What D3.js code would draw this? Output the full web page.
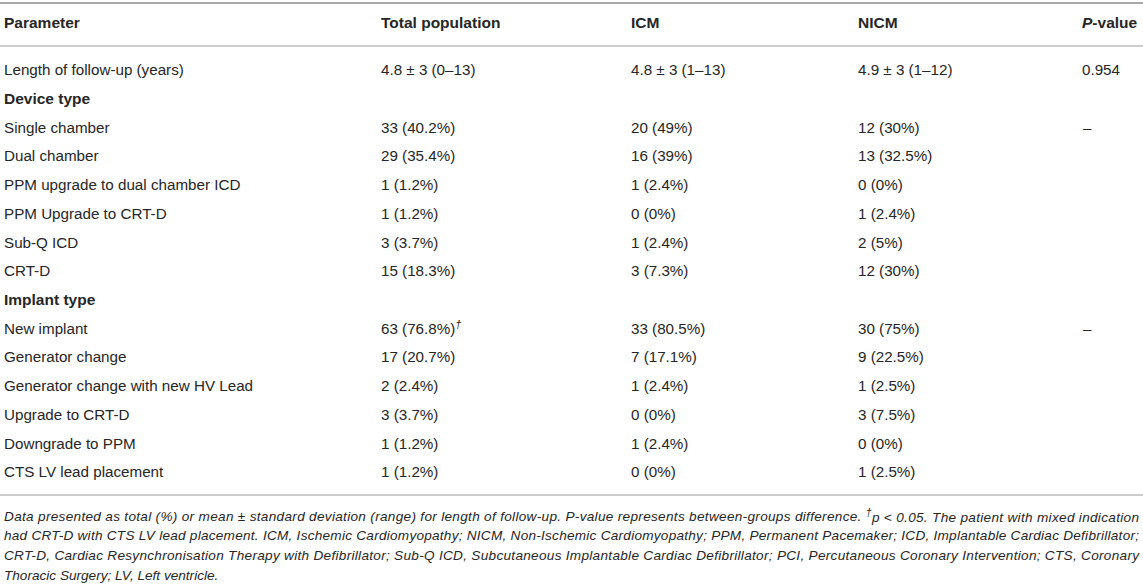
<!DOCTYPE html>
<html>
<head>
<meta charset="utf-8">
<script src="https://cdn.jsdelivr.net/npm/d3@7"></script>
<style>
  body { margin: 0; background: #fff; }
  text { font-family: "Liberation Sans", Arial, sans-serif; fill: #262626; }
</style>
</head>
<body>
<svg id="table" width="1143" height="588"></svg>
<script>
const columns = ['Parameter', 'Total population', 'ICM', 'NICM', 'P-value']

const parameters = [
  'Length of follow-up (years)',
  'Device type',
  'Single chamber',
  'Dual chamber',
  'PPM upgrade to dual chamber ICD',
  'PPM Upgrade to CRT-D',
  'Sub-Q ICD',
  'CRT-D',
  'Implant type',
  'New implant',
  'Generator change',
  'Generator change with new HV Lead',
  'Upgrade to CRT-D',
  'Downgrade to PPM',
  'CTS LV lead placement'
]

// section rows have no values
const sections = ['Device type', 'Implant type']

const totalPopulation = ['4.8 ± 3 (0–13)', '', '33 (40.2%)', '29 (35.4%)', '1 (1.2%)', '1 (1.2%)', '3 (3.7%)', '15 (18.3%)',
  '', '63 (76.8%)', '17 (20.7%)', '2 (2.4%)', '3 (3.7%)', '1 (1.2%)', '1 (1.2%)']
const icm = ['4.8 ± 3 (1–13)', '', '20 (49%)', '16 (39%)', '1 (2.4%)', '0 (0%)', '1 (2.4%)', '3 (7.3%)',
  '', '33 (80.5%)', '7 (17.1%)', '1 (2.4%)', '0 (0%)', '1 (2.4%)', '0 (0%)']
const nicm = ['4.9 ± 3 (1–12)', '', '12 (30%)', '13 (32.5%)', '0 (0%)', '1 (2.4%)', '2 (5%)', '12 (30%)',
  '', '30 (75%)', '9 (22.5%)', '1 (2.5%)', '3 (7.5%)', '0 (0%)', '1 (2.5%)']
const pValues = ['0.954', '', '–', '', '', '', '', '', '', '–', '', '', '', '', '']

const footnotes = [
  'Data presented as total (%) or mean ± standard deviation (range) for length of follow-up. P-value represents between-groups difference. |†|p < 0.05. The patient with mixed indication',
  'had CRT-D with CTS LV lead placement. ICM, Ischemic Cardiomyopathy; NICM, Non-Ischemic Cardiomyopathy; PPM, Permanent Pacemaker; ICD, Implantable Cardiac Defibrillator;',
  'CRT-D, Cardiac Resynchronisation Therapy with Defibrillator; Sub-Q ICD, Subcutaneous Implantable Cardiac Defibrillator; PCI, Percutaneous Coronary Intervention; CTS, Coronary',
  'Thoracic Surgery; LV, Left ventricle.'
]

const svg = d3.select('#table')

const x = d3.scaleOrdinal()
  .domain(columns)
  .range([4, 381, 631, 858, 1082])

const y = d3.scalePoint()
  .domain(d3.range(parameters.length))
  .range([70, 472])

const fy = d3.scalePoint()
  .domain(d3.range(footnotes.length))
  .range([516, 575])

// rules
svg.append('line')
  .attr('x1', 0).attr('x2', 1143).attr('y1', 3).attr('y2', 3)
  .attr('stroke', '#a8a8a8').attr('stroke-width', 2)
svg.append('line')
  .attr('x1', 0).attr('x2', 1143).attr('y1', 46).attr('y2', 46)
  .attr('stroke', '#bdbdbd').attr('stroke-width', 1.5)
svg.append('line')
  .attr('x1', 0).attr('x2', 1143).attr('y1', 495).attr('y2', 495)
  .attr('stroke', '#bdbdbd').attr('stroke-width', 1.5)

// header
const header = svg.append('g')
columns.forEach(c => {
  const t = header.append('text')
    .attr('x', x(c))
    .attr('y', 23)
    .attr('dy', '0.35em')
    .style('font-size', '15.5px')
    .style('font-weight', 'bold')
  if (c === 'P-value') {
    t.append('tspan').style('font-style', 'italic').text('P')
    t.append('tspan').text('-value')
  } else {
    t.text(c)
  }
})

// body
const rows = svg.append('g')
  .selectAll('g')
  .data(parameters)
  .join('g')
  .attr('transform', (d, i) => `translate(0,${y(i)})`)

rows.append('text')
  .attr('x', x('Parameter'))
  .attr('dy', '0.35em')
  .style('font-size', d => sections.includes(d) ? '15.5px' : '15.2px')
  .style('font-weight', d => sections.includes(d) ? 'bold' : 'normal')
  .text(d => d)

const cells = [
  ['Total population', totalPopulation],
  ['ICM', icm],
  ['NICM', nicm],
  ['P-value', pValues]
]

cells.forEach(([col, values]) => {
  rows.append('text')
    .attr('x', (d, i) => values[i] === '–' ? x(col) + 1 : x(col))
    .attr('dy', '0.35em')
    .style('font-size', '15.2px')
    .each(function (d, i) {
      const t = d3.select(this)
      t.text(values[i])
      if (col === 'Total population' && d === 'New implant') {
        t.append('tspan')
          .attr('dy', '-0.55em')
          .style('font-size', '11px')
          .style('font-style', 'italic')
          .text('†')
      }
    })
})

// footnote, justified except the last line
const notes = svg.append('g')
footnotes.forEach((line, i) => {
  const t = notes.append('text')
    .attr('x', 4)
    .attr('y', fy(i))
    .attr('dy', '0.35em')
    .style('font-size', '13.6px')
    .style('font-style', 'italic')
  if (i < footnotes.length - 1) {
    t.attr('textLength', 1135).attr('lengthAdjust', 'spacing')
  }
  const parts = line.split('|')
  parts.forEach((p, k) => {
    const s = t.append('tspan').text(p)
    if (p === '†') {
      s.attr('dy', '-0.45em').style('font-size', '10.5px')
    } else if (k > 0 && parts[k - 1] === '†') {
      s.attr('dy', '0.45em')
    }
  })
})
</script>
</body>
</html>
